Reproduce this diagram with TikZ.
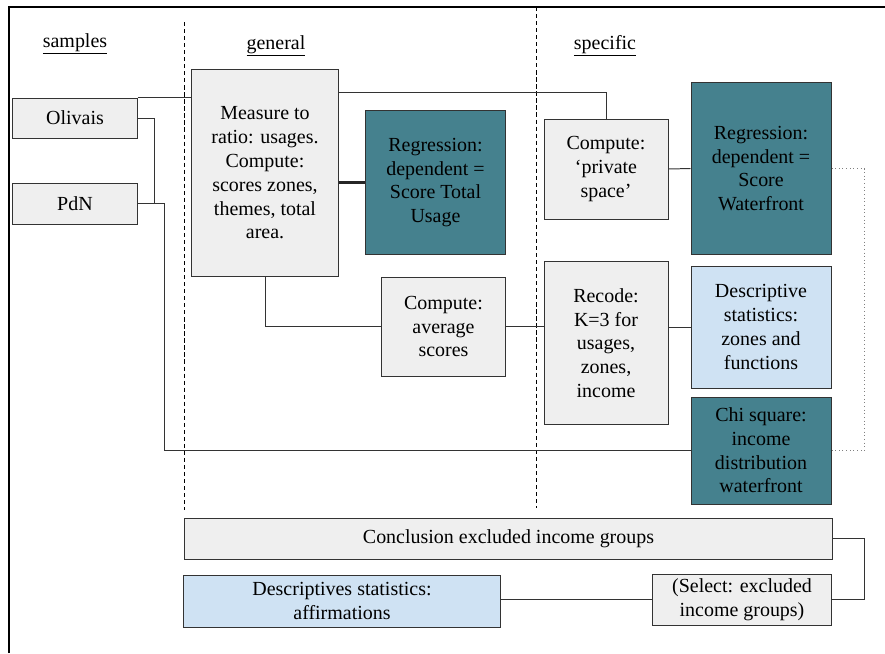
\documentclass[tikz,border=0pt]{standalone}
\usepackage{fontspec}
\setmainfont{LiberationSerif}[Extension=.ttf, UprightFont=*-Regular, Ligatures=TeX]
\usepackage{xcolor}
\usepackage{tikz}
\usetikzlibrary{arrows.meta,positioning,calc}

\definecolor{boxgray}{HTML}{EFEFEF}
\definecolor{boxblue}{HTML}{CFE2F3}
\definecolor{boxteal}{HTML}{45818E}

\begin{document}
\begin{tikzpicture}[x=0.025cm, y=-0.025cm,
    font=\fontsize{14.2}{16.9}\selectfont,
    box/.style={draw=black!80, line width=0.7pt, inner sep=0pt, align=center},
    graybox/.style={box, fill=boxgray},
    bluebox/.style={box, fill=boxblue},
    tealbox/.style={box, fill=boxteal},
    link/.style={line width=0.7pt, black!80}]
  \useasboundingbox (0,0) rectangle (885,653);
  % frame and column separators
  \draw[line width=1.4pt] (9,653) -- (9,7) -- (885,7);
  \draw[dash pattern=on 3pt off 2pt, line width=0.6pt] (184,22) -- (184,510);
  \draw[dash pattern=on 3pt off 2pt, line width=0.6pt] (536,7) -- (536,508);
  \node (hsamples)  at (75,44)  {\underline{samples}};
  \node (hgeneral)  at (276,46) {\underline{general}};
  \node (hspecific) at (605,46) {\underline{specific}};

  % samples
  \node[graybox, minimum width=3.1cm, minimum height=1.0cm]   (olivais) at (75,118)   {Olivais};
  \node[graybox, minimum width=3.1cm, minimum height=1.025cm] (pdn)     at (75,203.5) {PdN};

  % general
  \node[graybox, minimum width=3.65cm, minimum height=5.15cm] (measure) at (265,173)
    {Measure to\\ratio: usages.\\Compute:\\scores zones,\\themes, total\\area.};
  \node[tealbox, minimum width=3.475cm, minimum height=3.575cm] (regtotal) at (435.5,182.5)
    {Regression:\\dependent =\\Score Total\\Usage};
  \node[graybox, minimum width=3.075cm, minimum height=2.475cm] (average) at (443.5,326.5)
    {Compute:\\average\\scores};

  % specific
  \node[graybox, minimum width=3.1cm, minimum height=2.5cm] (private) at (606,169)
    {Compute:\\`private\\space'};
  \node[tealbox, minimum width=3.5cm, minimum height=4.275cm] (regwater) at (761,168.5)
    {Regression:\\dependent =\\Score\\Waterfront};
  \node[graybox, minimum width=3.1cm, minimum height=4.05cm] (recode) at (606,343)
    {Recode:\\K=3 for\\usages,\\zones,\\income};
  \node[bluebox, minimum width=3.5cm, minimum height=3.05cm] (descstats) at (761,327)
    {Descriptive\\statistics:\\zones and\\functions};
  \node[tealbox, minimum width=3.5cm, minimum height=2.675cm] (chisq) at (761,450.5)
    {Chi square:\\income\\distribution\\waterfront};

  % bottom row
  \node[graybox, minimum width=16.175cm, minimum height=1.025cm] (conclusion) at (508.5,538.5)
    {Conclusion excluded income groups};
  \node[bluebox, minimum width=7.9cm, minimum height=1.3cm] (affirm) at (342,601)
    {Descriptives statistics:\\affirmations};
  \node[graybox, minimum width=4.45cm, minimum height=1.275cm] (select) at (742,599.5)
    {(Select: excluded\\income groups)};

  % connectors
  \draw[link] (olivais.north east) -- (olivais.north east -| measure.west);
  \draw[link] ([yshift=-0.575cm]measure.north east) -| (private.north);
  \draw[line width=2pt, black!85] (measure.east |- regtotal.west) -- (regtotal.west);
  \draw[link] (olivais.east) -| ($(pdn.east)+(17,0)$);
  \draw[link] (pdn.east) -- ++(27,0) |- (chisq.west);
  \draw[link] (measure.south) |- (average.west);
  \draw[link] (average.east) -- (average.east -| recode.west);
  \draw[link] (private.east) -- (regwater.west);
  \draw[link] (descstats.west -| recode.east) -- (descstats.west);
  \draw[line width=0.6pt, gray, dotted] (regwater.east) -- ++(33,0) |- (chisq.east);
  \draw[link] (conclusion.east) -- ++(32,0) |- (select.east);
  \draw[link] (select.west) -- (select.west -| affirm.east);
\end{tikzpicture}
\end{document}
